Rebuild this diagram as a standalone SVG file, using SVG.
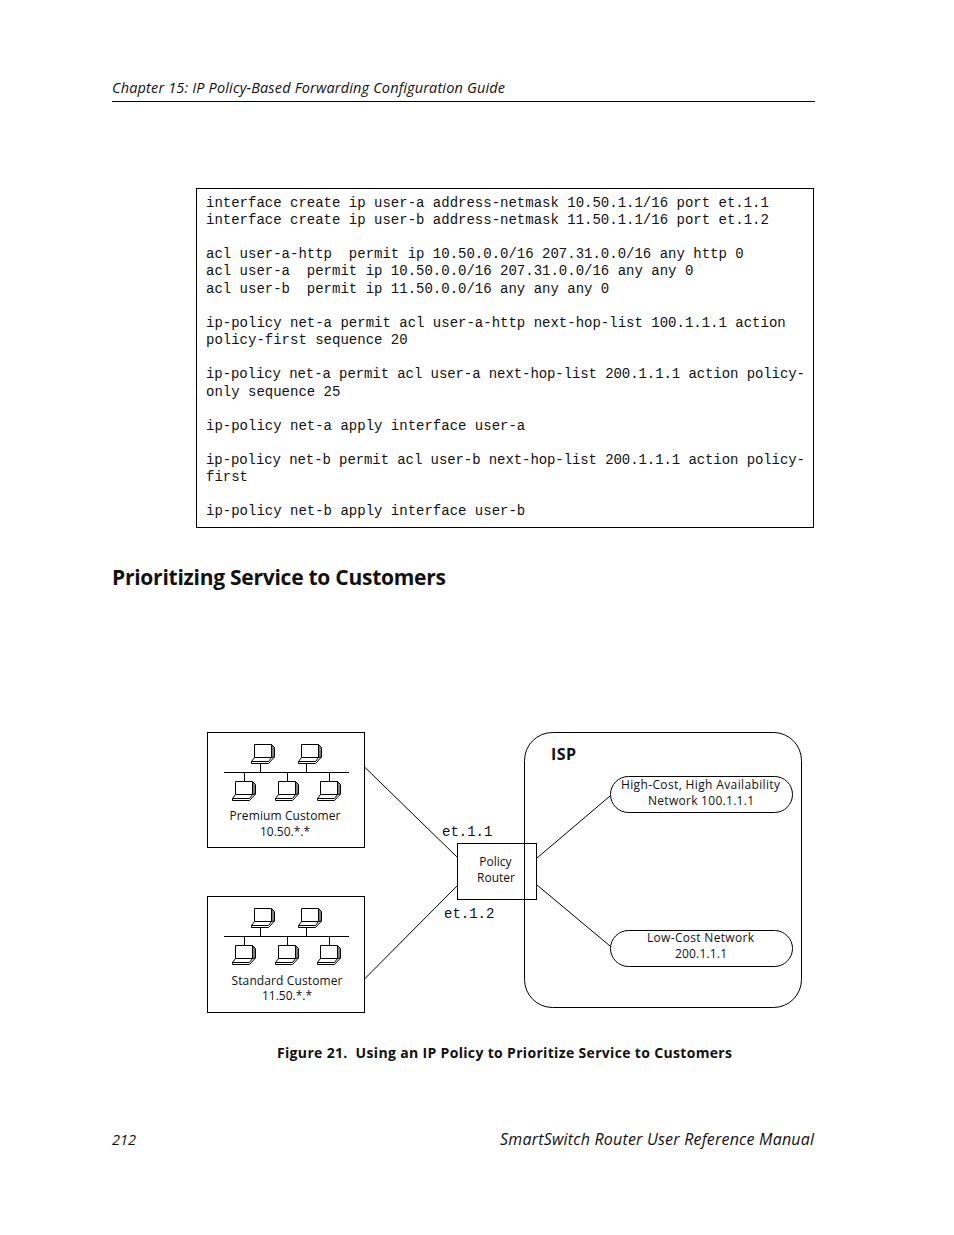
<svg xmlns="http://www.w3.org/2000/svg" width="954" height="1235" viewBox="0 0 954 1235">
<style>
text{fill:#111}
.s{font-family:"Open Sans","Noto Sans",sans-serif;white-space:pre}
.m{font-family:"Liberation Mono",monospace;font-size:14px;white-space:pre}
.t{letter-spacing:-.084px}
.l{font-family:"Open Sans","Noto Sans",sans-serif;font-size:12px;text-anchor:middle}
.b{fill:#fff;stroke:#000;stroke-width:1}
.n{fill:none;stroke:#000;stroke-width:1}
</style>
<defs>
<g id="pc" fill="none" stroke="#000" stroke-width="1">
<path d="M3.500 .5H20.500V13.500H3.500Z"/>
<path d="M20.500 .5L23.500 3.500V13L20.500 13.500"/>
<path d="M22 2V13"/>
<path d="M3.500 13.500L.5 17.500H17.500L20.500 13.500"/>
<path d="M.5 17.500V19.500H17.500L23.500 13"/>
</g>
</defs>
<rect width="954" height="1235" fill="#fff"/>
<g id="page-header">
<text class="s" x="112" y="93" font-size="14.500" font-style="italic" textLength="393">Chapter 15: IP Policy-Based Forwarding Configuration Guide</text>
<path d="M112 101.500H815" class="n"/>
</g>
<g id="code-box">
<rect class="b" x="196.500" y="188.500" width="617" height="339"/>
<text class="m" x="206" y="207">interface create ip user-a address-netmask 10.50.1.1/16 port et.1.1</text>
<text class="m" x="206" y="224">interface create ip user-b address-netmask 11.50.1.1/16 port et.1.2</text>
<text class="m" x="206" y="258">acl user-a-http  permit ip 10.50.0.0/16 207.31.0.0/16 any http 0</text>
<text class="m" x="206" y="275">acl user-a  permit ip 10.50.0.0/16 207.31.0.0/16 any any 0</text>
<text class="m" x="206" y="293">acl user-b  permit ip 11.50.0.0/16 any any any 0</text>
<text class="m" x="206" y="327">ip-policy net-a permit acl user-a-http next-hop-list 100.1.1.1 action</text>
<text class="m" x="206" y="344">policy-first sequence 20</text>
<text class="m t" x="206" y="378">ip-policy net-a permit acl user-a next-hop-list 200.1.1.1 action policy-</text>
<text class="m" x="206" y="396">only sequence 25</text>
<text class="m" x="206" y="430">ip-policy net-a apply interface user-a</text>
<text class="m t" x="206" y="464">ip-policy net-b permit acl user-b next-hop-list 200.1.1.1 action policy-</text>
<text class="m" x="206" y="481">first</text>
<text class="m" x="206" y="515">ip-policy net-b apply interface user-b</text>
</g>
<text class="s" x="112" y="585" font-size="21" font-weight="700" textLength="334">Prioritizing Service to Customers</text>
<g id="connectors">
<path class="n" d="M363.500 766L457 857M364.500 979L457 886M537 858L610 796M537 885L610 946"/>
</g>
<g id="premium-customer">
<rect class="b" x="207.500" y="732.500" width="157" height="115"/>
<path class="n" d="M224 772.500H349M260.500 763V772M306.500 763V772M244.500 773V781M287.500 773V781M329.500 773V781"/>
<use href="#pc" x="251" y="744"/><use href="#pc" x="298" y="744"/>
<use href="#pc" x="232" y="781"/><use href="#pc" x="275" y="781"/><use href="#pc" x="317" y="781"/>
<text class="l" x="285" y="820" textLength="111">Premium Customer</text>
<text class="l" x="285" y="836">10.50.*.*</text>
</g>
<g id="standard-customer">
<rect class="b" x="207.500" y="896.500" width="157" height="116"/>
<path class="n" d="M224 936.500H349M260.500 927V936M306.500 927V936M244.500 937V945M287.500 937V945M329.500 937V945"/>
<use href="#pc" x="251" y="908"/><use href="#pc" x="298" y="908"/>
<use href="#pc" x="232" y="945"/><use href="#pc" x="275" y="945"/><use href="#pc" x="317" y="945"/>
<text class="l" x="287" y="985" textLength="111">Standard Customer</text>
<text class="l" x="287" y="1000">11.50.*.*</text>
</g>
<g id="isp">
<rect class="n" x="524.500" y="732.500" width="277" height="275" rx="28"/>
<text class="s" x="551" y="760" font-size="16" font-weight="700" textLength="25">ISP</text>
</g>
<g id="policy-router">
<rect class="n" x="457.500" y="843.500" width="79" height="56"/>
<text class="l" x="495.500" y="866">Policy</text>
<text class="l" x="496" y="882">Router</text>
</g>
<text class="m" x="442" y="836">et.1.1</text>
<text class="m" x="444" y="918">et.1.2</text>
<g id="high-cost-network">
<rect class="n" x="610.500" y="776.500" width="182" height="36" rx="18"/>
<text class="l" x="700.500" y="789" textLength="159">High-Cost, High Availability</text>
<text class="l" x="701" y="805" textLength="106">Network 100.1.1.1</text>
</g>
<g id="low-cost-network">
<rect class="n" x="610.500" y="930.500" width="182" height="36" rx="18"/>
<text class="l" x="700.500" y="942" textLength="107">Low-Cost Network</text>
<text class="l" x="701" y="958" textLength="52">200.1.1.1</text>
</g>
<text class="s" x="277" y="1058" font-size="14" font-weight="700" textLength="455">Figure 21.  Using an IP Policy to Prioritize Service to Customers</text>
<text class="s" x="112" y="1145" font-size="14.500" font-style="italic">212</text>
<text class="s" x="500" y="1145" font-size="16" font-style="italic" textLength="314">SmartSwitch Router User Reference Manual</text>
</svg>
